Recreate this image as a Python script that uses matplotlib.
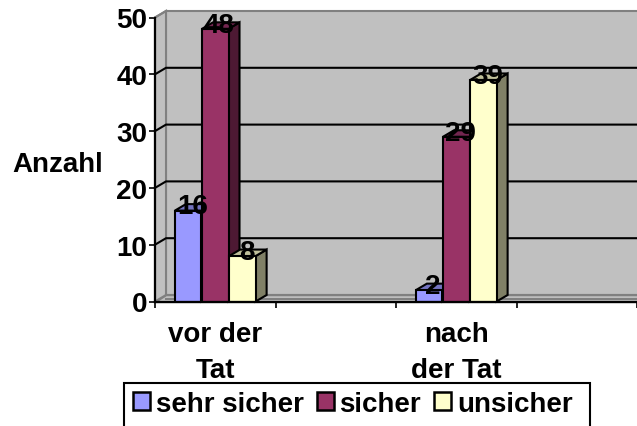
import numpy as np
import matplotlib
matplotlib.use("Agg")
import matplotlib.pyplot as plt
from matplotlib.patches import Polygon, Rectangle, Patch

categories = ["vor der\nTat", "", "nach\nder Tat", ""]
sehr_sicher = [16, np.nan, 2, np.nan]
sicher = [48, np.nan, 29, np.nan]
unsicher = [8, np.nan, 39, np.nan]
series_names = ["sehr sicher", "sicher", "unsicher"]
y_ticks = [0, 10, 20, 30, 40, 50]
y_label = "Anzahl"

plt.rcParams['font.family'] = ['Liberation Sans', 'DejaVu Sans']
W, H = 637, 427
FS = 20
fig = plt.figure(figsize=(W / 100, H / 100), dpi=100, facecolor="white")
L, R, B, T = 155, 637, 302.5, 18.5
ax = fig.add_axes([L / W, 1 - B / H, (R - L) / W, (B - T) / H])
ax.set_xlim(-0.5, 3.5)
ax.set_ylim(0, 50)
ax.patch.set_visible(False)
for s in ["top", "right"]:
    ax.spines[s].set_visible(False)
for s in ["left", "bottom"]:
    ax.spines[s].set_linewidth(1.6)
    ax.spines[s].set_zorder(6)

dx = 11 / ((R - L) / 4)
dy = 6.5 / ((B - T) / 50)
x0, x1, ymax = -0.5, 3.5, 50
lw = 1.5

# back wall, side wall, floor
ax.add_patch(Polygon([(x0 + dx, dy), (x1 + dx, dy), (x1 + dx, ymax + dy), (x0 + dx, ymax + dy)],
                     fc="#C0C0C0", ec="#808080", lw=1.5, clip_on=False, zorder=1))
ax.add_patch(Polygon([(x0, 0), (x0 + dx, dy), (x0 + dx, ymax + dy), (x0, ymax)],
                     fc="#C0C0C0", ec="#808080", lw=1.5, clip_on=False, zorder=1))
ax.add_patch(Polygon([(x0, 0), (x1 + dx, 0), (x1 + dx, dy), (x0 + dx, dy)],
                     fc="#C0C0C0", ec="#808080", lw=1, clip_on=False, zorder=1.1))
ax.plot([x0 + dx, x1 + dx], [dy, dy], color="#808080", lw=1.5, clip_on=False, zorder=1.2)
ax.plot([x0 + dx, x1 + dx], [dy * 0.35, dy * 0.35], color="#808080", lw=1.5, clip_on=False, zorder=1.2)

# gridlines
for v in y_ticks[1:-1]:
    ax.plot([x0, x0 + dx, x1], [v, v + dy, v + dy], color="black", lw=lw, zorder=2, clip_on=False)
ax.plot([x0, x0 + dx], [50, 50 + dy], color="#808080", lw=lw, zorder=2, clip_on=False)

colors = [("#9999FF", "#7373C0", "#4D4D80"),
          ("#993366", "#732650", "#4D1933"),
          ("#FFFFCC", "#C0C09A", "#808066")]
width = 0.22
offsets = [-width - 0.005, 0, width + 0.005]
xs = np.arange(len(categories))
all_series = [sehr_sicher, sicher, unsicher]

for i, (vals, (front, top, side)) in enumerate(zip(all_series, colors)):
    for x, v in zip(xs, vals):
        if np.isnan(v):
            continue
        a, b = x + offsets[i] - width / 2, x + offsets[i] + width / 2
        z = 3 + i * 0.1
        ax.add_patch(Polygon([(b, 0), (b + dx, dy), (b + dx, v + dy), (b, v)],
                             fc=side, ec="black", lw=lw, zorder=z, clip_on=False))
        ax.add_patch(Polygon([(a, v), (b, v), (b + dx, v + dy), (a + dx, v + dy)],
                             fc=top, ec="black", lw=lw, zorder=z, clip_on=False))
        ax.bar(x + offsets[i], v, width, color=front, edgecolor="black", linewidth=lw, zorder=z + 0.01)

for i, vals in enumerate(all_series):
    for x, v in zip(xs, vals):
        if np.isnan(v):
            continue
        ax.annotate(str(int(v)), (x + offsets[i] + dx / 2, v), xytext=(-1, 3), textcoords="offset points",
                    ha="center", va="center", fontsize=FS, fontweight="bold", color="black", zorder=5,
                    annotation_clip=False)

ax.set_yticks(y_ticks)
ax.set_yticklabels([str(t) for t in y_ticks], fontsize=FS, fontweight="bold")
ax.set_xticks(np.arange(len(categories) + 1) - 0.5)
ax.set_xticks(xs, categories, minor=True, fontsize=FS, fontweight="bold", linespacing=1.5)
ax.set_xticklabels([])
ax.tick_params(axis="x", which="major", length=4.5, width=1.2, color="black")
ax.tick_params(axis="x", which="minor", length=0, pad=14)
ax.tick_params(axis="y", length=4, width=1.2, pad=1.5)
for t in ax.xaxis.get_major_ticks():
    t.tick1line.set_clip_on(False)

fig.text(12 / W, 1 - 165 / H, y_label, fontsize=FS, fontweight="bold", ha="left", va="center")

# legend frame runs past the lower edge of the figure
fig.add_artist(Rectangle((123.5 / W, -0.05), (590 - 123.5) / W, 1.05 - 383.5 / H, transform=fig.transFigure,
                         fc="white", ec="black", lw=1.5))
handles = [Patch(fc=c[0], ec="black", lw=1.8) for c in colors]
leg = fig.legend(handles, series_names, loc="center left", bbox_to_anchor=(133 / W, 1 - 405 / H), ncol=3,
                 frameon=False, prop={"size": FS, "weight": "bold"}, borderpad=0, borderaxespad=0,
                 handlelength=0.62, handleheight=0.62, handletextpad=0.2, columnspacing=0.47)
fig.savefig("out.png", dpi=100)
